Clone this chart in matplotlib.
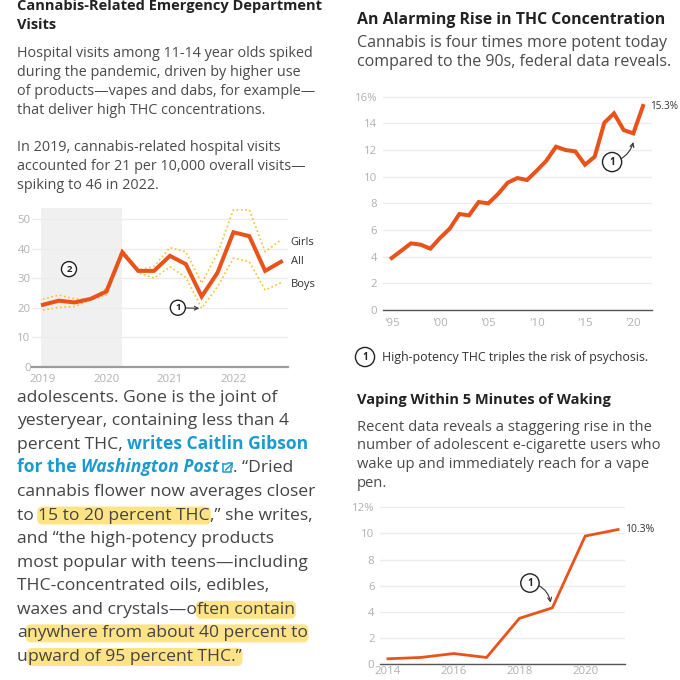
import matplotlib
matplotlib.use('Agg')
import matplotlib.pyplot as plt
from matplotlib.patches import FancyBboxPatch
from matplotlib.lines import Line2D

# ---------------- data ----------------
ed_quarters = ['2019Q1', '2019Q2', '2019Q3', '2019Q4', '2020Q1', '2020Q2', '2020Q3', '2020Q4',
               '2021Q1', '2021Q2', '2021Q3', '2021Q4', '2022Q1', '2022Q2', '2022Q3', '2022Q4']
ed_year_ticks = ['2019', '2020', '2021', '2022']
ed_all = [21.0, 22.4, 21.8, 23.0, 25.5, 38.8, 32.5, 32.5, 37.6, 34.8, 23.8, 31.9, 45.6, 44.3, 32.5, 35.6]
ed_girls = [22.9, 24.3, 23.0, 22.8, 26.6, 39.8, 32.8, 34.0, 40.4, 39.0, 28.3, 38.5, 53.2, 53.2, 39.0, 43.0]
ed_boys = [19.2, 20.1, 20.4, 22.6, 24.3, 39.6, 31.9, 30.0, 33.9, 30.3, 19.8, 27.1, 36.8, 35.6, 26.0, 28.5]
ed_series_labels = ['Girls', 'All', 'Boys']
ed_yticks = [0, 10, 20, 30, 40, 50]

thc_years = list(range(1995, 2022))
thc_pct = [3.9, 4.45, 5.0, 4.9, 4.6, 5.4, 6.1, 7.2, 7.1, 8.1, 8.0, 8.7, 9.55, 9.9, 9.75, 10.45,
           11.2, 12.25, 12.0, 11.9, 10.9, 11.5, 14.05, 14.75, 13.5, 13.25, 15.3]
thc_xticks = [1995, 2000, 2005, 2010, 2015, 2020]
thc_xticklabels = ["'95", "'00", "'05", "'10", "'15", "'20"]
thc_yticks = [0, 2, 4, 6, 8, 10, 12, 14, 16]
thc_yticklabels = ['0', '2', '4', '6', '8', '10', '12', '14', '16%']

vape_years = [2014, 2015, 2016, 2017, 2018, 2019, 2020, 2021]
vape_pct = [0.4, 0.5, 0.8, 0.5, 3.5, 4.3, 9.8, 10.3]
vape_xticks = [2014, 2016, 2018, 2020]
vape_yticks = [0, 2, 4, 6, 8, 10, 12]
vape_yticklabels = ['0', '2', '4', '6', '8', '10', '12%']

# ---------------- style ----------------
W = H = 680
FONT = 'Open Sans'
plt.rcParams['font.family'] = [FONT, 'DejaVu Sans']
ORANGE = '#e8531c'
GOLD = '#f2c233'
BLUE = '#1b9ad0'
TITLE_C = '#222222'
BODY_C = '#4a4a4a'
TICK_C = '#b0b0b0'
GRID_C = '#ececec'

fig = plt.figure(figsize=(6.8, 6.8), dpi=100, facecolor='white')
fig.canvas.draw()
R = fig.canvas.get_renderer()


def fx(x):
    return x / W


def fy(y):
    return 1 - y / H


def width_of(s, size, **kw):
    t = fig.text(0, 0, s + '|', fontsize=size, **kw)
    w1 = t.get_window_extent(R).width
    t.remove()
    t = fig.text(0, 0, '|', fontsize=size, **kw)
    w2 = t.get_window_extent(R).width
    t.remove()
    return w1 - w2


def fit(s, target, **kw):
    return 10 * target / width_of(s, 10, **kw)


def txt(x, y, s, size, color=BODY_C, **kw):
    return fig.text(fx(x), fy(y), s, fontsize=size, color=color, ha='left', va='baseline', zorder=5, **kw)


def px_axes(left, top, right, bottom):
    return fig.add_axes([fx(left), fy(bottom), (right - left) / W, (bottom - top) / H])


def style_axes(ax, base_color, base_lw):
    for s in ['top', 'right', 'left']:
        ax.spines[s].set_visible(False)
    ax.spines['bottom'].set_color(base_color)
    ax.spines['bottom'].set_linewidth(base_lw)
    ax.spines['bottom'].set_zorder(4)
    ax.yaxis.grid(True, color=GRID_C, lw=1.0)
    ax.set_axisbelow(True)
    ax.tick_params(length=0, labelcolor=TICK_C, labelsize=8.2)
    ax.patch.set_alpha(0)


# ---------------- left column texts ----------------
ts = fit('Cannabis-Related Emergency Department', 305, fontweight='bold')
txt(17, 10, 'Cannabis-Related Emergency Department', ts, TITLE_C, fontweight='bold')
txt(17, 29, 'Visits', ts, TITLE_C, fontweight='bold')

ps = fit('Hospital visits among 11-14 year olds spiked', 296)
para1 = ['Hospital visits among 11-14 year olds spiked',
         'during the pandemic, driven by higher use',
         'of products\u2014vapes and dabs, for example\u2014',
         'that deliver high THC concentrations.']
for i, line in enumerate(para1):
    txt(17, 56.7 + i * 19, line, ps)
para2 = ['In 2019, cannabis-related hospital visits',
         'accounted for 21 per 10,000 overall visits\u2014',
         'spiking to 46 in 2022.']
for i, line in enumerate(para2):
    txt(17, 151 + i * 19, line, ps)

# ---------------- chart 1 : ED visits ----------------
ax1 = px_axes(32, 207.5, 288, 366.7)
style_axes(ax1, '#9c9c9c', 1.6)
xq = list(range(len(ed_quarters)))
ax1.axvspan(-0.15, 5, color='#f0f0f0', zorder=0, lw=0)
ax1.plot(xq, ed_girls, color=GOLD, lw=1.2, ls=(0, (1, 1.6)), zorder=2)
ax1.plot(xq, ed_boys, color=GOLD, lw=1.2, ls=(0, (1, 1.6)), zorder=2)
ax1.plot(xq, ed_all, color=ORANGE, lw=2.9, zorder=3, solid_joinstyle='miter')
ax1.set_xlim(-0.69, 15.44)
ax1.set_ylim(0, 54)
ax1.set_yticks(ed_yticks)
ax1.set_yticklabels([str(v) for v in ed_yticks])
ax1.set_xticks([0, 4, 8, 12])
ax1.set_xticklabels(ed_year_ticks)
ax1.tick_params(axis='y', pad=1)
ax1.tick_params(axis='x', pad=5)
for name, vals, dy in zip(ed_series_labels, [ed_girls, ed_all, ed_boys], [-1, 0, -0.5]):
    ax1.annotate(name, xy=(xq[-1], vals[-1] + dy), xytext=(7, 0), textcoords='offset points',
                 fontsize=8, color='#333333', va='center', ha='left', annotation_clip=False)
circ_small = dict(boxstyle='circle,pad=0.32', fc='white', ec='#222222', lw=1.0)
ax1.annotate('1', xy=(9.85, ed_boys[10]), xytext=(8.5, 20.0), fontsize=6.8, fontweight='bold',
             ha='center', va='center', bbox=circ_small, color='#222222',
             arrowprops=dict(arrowstyle='->', color='#333333', lw=0.8, shrinkA=0, shrinkB=0))
ax1.text(1.64, 33.1, '2', fontsize=6.8, fontweight='bold', ha='center', va='center',
         bbox=circ_small, color='#222222', zorder=5)

# ---------------- bottom-left article text ----------------
bs = fit('cannabis flower now averages closer', 298)
STY = {
    'n': dict(color='#444444'),
    'h': dict(color='#444444'),
    'b': dict(color=BLUE, fontweight='bold'),
    'bi': dict(color=BLUE, fontweight='bold', fontstyle='italic'),
}
article = [
    [('adolescents. Gone is the joint of', 'n')],
    [('yesteryear, containing less than 4', 'n')],
    [('percent THC, ', 'n'), ('writes Caitlin Gibson', 'b')],
    [('for the ', 'b'), ('Washington Post', 'bi'), ('ICON', 'icon'), ('. \u201cDried', 'n')],
    [('cannabis flower now averages closer', 'n')],
    [('to ', 'n'), ('15 to 20 percent THC', 'h'), (',\u201d she writes,', 'n')],
    [('and \u201cthe high-potency products', 'n')],
    [('most popular with teens\u2014including', 'n')],
    [('THC-concentrated oils, edibles,', 'n')],
    [('waxes and crystals\u2014o', 'n'), ('ften contain', 'h')],
    [('a', 'n'), ('nywhere from about 40 percent to', 'h')],
    [('u', 'n'), ('pward of 95 percent THC.\u201d', 'h')],
]
for i, segs in enumerate(article):
    base = 401.7 + i * 23.57
    x = 17
    for s, st in segs:
        if st == 'icon':
            x0, b = x + 4, base
            pts = [[(x0, b - 8), (x0, b), (x0 + 8, b), (x0 + 8, b - 4)],
                   [(x0, b - 8), (x0 + 4, b - 8)],
                   [(x0 + 2.5, b - 2.5), (x0 + 9, b - 9)],
                   [(x0 + 5, b - 9), (x0 + 9, b - 9), (x0 + 9, b - 5)]]
            for p in pts:
                fig.add_artist(Line2D([fx(q[0]) for q in p], [fy(q[1]) for q in p], color=BLUE,
                                      lw=1.1, transform=fig.transFigure, zorder=5))
            x += 14
            continue
        kw = STY[st]
        txt(x, base, s, bs, **kw)
        w = width_of(s, bs, **{k: v for k, v in kw.items() if k != 'color'})
        if st == 'h':
            fig.add_artist(FancyBboxPatch((fx(x - 1), fy(base + 5)), (w + 2) / W, 18 / H,
                                          boxstyle='round,pad=0,rounding_size=0.008',
                                          transform=fig.transFigure, fc='#ffe27a', ec='none',
                                          alpha=0.9, zorder=1))
        x += w

# ---------------- right column: THC chart ----------------
rts = fit('An Alarming Rise in THC Concentration', 307, fontweight='bold')
txt(357, 24, 'An Alarming Rise in THC Concentration', rts, TITLE_C, fontweight='bold')
rss = fit('compared to the 90s, federal data reveals.', 313)
txt(357, 46.7, 'Cannabis is four times more potent today', rss)
txt(357, 66, 'compared to the 90s, federal data reveals.', rss)

ax2 = px_axes(382.7, 95.4, 651.7, 310)
style_axes(ax2, '#555555', 1.0)
ax2.plot(thc_years, thc_pct, color=ORANGE, lw=2.9, zorder=3, solid_joinstyle='miter')
ax2.set_xlim(1994.07, 2021.9)
ax2.set_ylim(0, 16.1)
ax2.set_yticks(thc_yticks)
ax2.set_yticklabels(thc_yticklabels)
ax2.set_xticks(thc_xticks)
ax2.set_xticklabels(thc_xticklabels)
ax2.tick_params(axis='y', pad=4)
ax2.tick_params(axis='x', pad=6)
ax2.annotate(f'{thc_pct[-1]:.1f}%', xy=(thc_years[-1], thc_pct[-1]), xytext=(5, 0),
             textcoords='offset points', fontsize=7.2, color='#333333', va='center', ha='left',
             annotation_clip=False)
circ_big = dict(boxstyle='circle,pad=0.42', fc='white', ec='#222222', lw=1.0)
ax2.annotate('1', xy=(2020.0, 12.6), xytext=(2017.8, 11.1), fontsize=7, fontweight='bold',
             ha='center', va='center', bbox=circ_big, color='#222222',
             arrowprops=dict(arrowstyle='->', color='#333333', lw=0.8, shrinkA=0, shrinkB=0,
                             connectionstyle='arc3,rad=0.3'))

fns = fit('High-potency THC triples the risk of psychosis.', 265)
fig.text(fx(365), fy(357), '1', fontsize=7, fontweight='bold', ha='center', va='center',
         bbox=circ_big, color='#222222', zorder=5)
txt(382, 361, 'High-potency THC triples the risk of psychosis.', fns, '#333333')

# ---------------- right column: vaping chart ----------------
vts = fit('Vaping Within 5 Minutes of Waking', 255, fontweight='bold')
txt(357, 404, 'Vaping Within 5 Minutes of Waking', vts, TITLE_C, fontweight='bold')
vss = fit('number of adolescent e-cigarette users who', 303)
vlines = ['Recent data reveals a staggering rise in the',
          'number of adolescent e-cigarette users who',
          'wake up and immediately reach for a vape',
          'pen.']
for i, line in enumerate(vlines):
    txt(357, 430.7 + i * 18.7, line, vss)

ax3 = px_axes(380, 506, 625, 664)
style_axes(ax3, '#555555', 1.0)
ax3.plot(vape_years, vape_pct, color=ORANGE, lw=2.0, zorder=3, solid_joinstyle='miter')
ax3.set_xlim(2013.76, 2021.21)
ax3.set_ylim(0, 12.1)
ax3.set_yticks(vape_yticks)
ax3.set_yticklabels(vape_yticklabels)
ax3.set_xticks(vape_xticks)
ax3.set_xticklabels([str(v) for v in vape_xticks])
ax3.tick_params(axis='y', pad=4)
ax3.tick_params(axis='x', pad=1.5)
ax3.annotate(f'{vape_pct[-1]:.1f}%', xy=(vape_years[-1], vape_pct[-1]), xytext=(5, 0),
             textcoords='offset points', fontsize=7.5, color='#333333', va='center', ha='left',
             annotation_clip=False)
circ_mid = dict(boxstyle='circle,pad=0.38', fc='white', ec='#222222', lw=1.0)
ax3.annotate('1', xy=(2018.95, 4.7), xytext=(2018.32, 6.2), fontsize=7, fontweight='bold',
             ha='center', va='center', bbox=circ_mid, color='#222222',
             arrowprops=dict(arrowstyle='->', color='#333333', lw=0.8, shrinkA=0, shrinkB=0,
                             connectionstyle='arc3,rad=-0.35'))

fig.savefig('out.png', dpi=100, facecolor='white')
